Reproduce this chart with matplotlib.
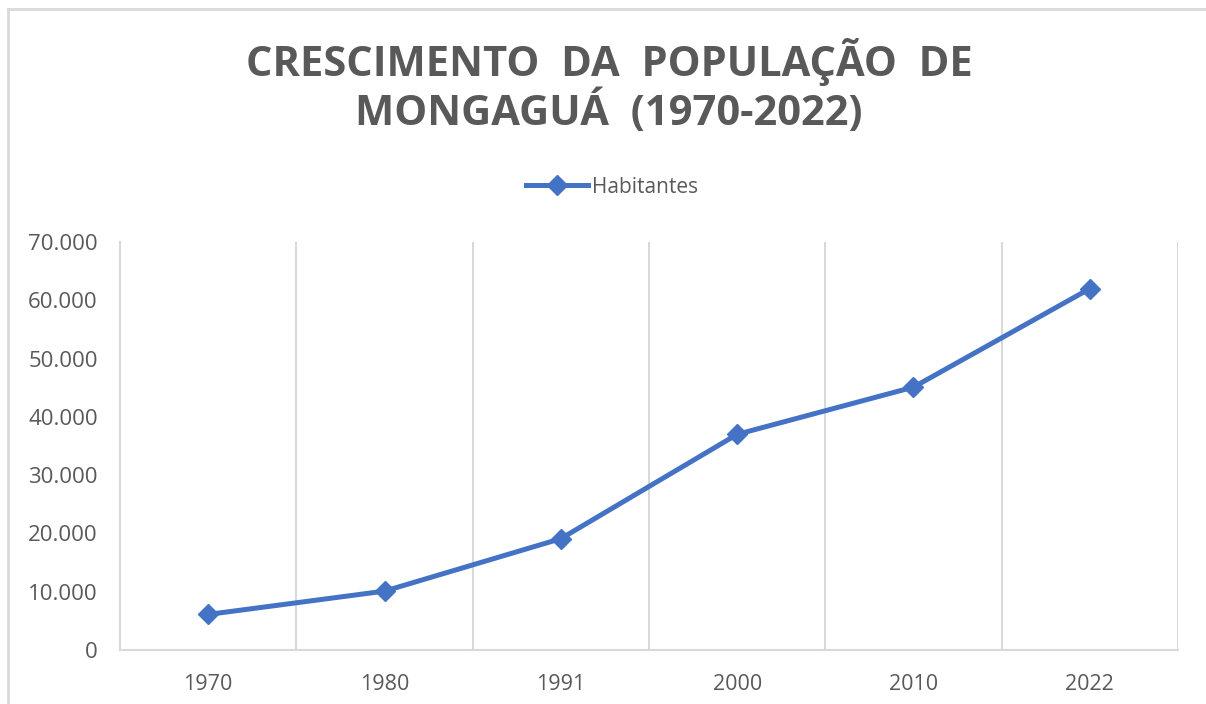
import matplotlib
matplotlib.use("Agg")
import matplotlib.pyplot as plt
from matplotlib.lines import Line2D
from matplotlib.ticker import FuncFormatter, FixedLocator, MultipleLocator

# Dados: população de Mongaguá por ano de censo
anos = ["1970", "1980", "1991", "2000", "2010", "2022"]
habitantes = [6100, 10100, 19100, 37000, 45100, 62000]

cinza = "#595959"
azul = "#4472C4"
grade = "#D9D9D9"

fig = plt.figure(figsize=(12.06, 7.04), dpi=100)
ax = fig.add_axes([120 / 1206, 1 - 650 / 704, (1178 - 120) / 1206, (650 - 242) / 704])

x = list(range(len(anos)))
ax.plot(x, habitantes, color=azul, linewidth=3.6, marker="D", markersize=10,
        label="Habitantes", solid_joinstyle="round")

ax.set_xlim(-0.5, len(anos) - 0.5)
ax.set_ylim(0, 70000)
ax.yaxis.set_major_locator(MultipleLocator(10000))
ax.yaxis.set_major_formatter(FuncFormatter(lambda v, p: f"{int(v):,}".replace(",", ".")))
ax.set_xticks(x)
ax.set_xticklabels(anos)
ax.xaxis.set_minor_locator(FixedLocator([i - 0.5 for i in range(len(anos) + 1)]))
ax.grid(True, which="minor", axis="x", color=grade, linewidth=1.5)
ax.grid(False, which="major")

for s in ["top", "right"]:
    ax.spines[s].set_visible(False)
for s in ["left", "bottom"]:
    ax.spines[s].set_color(grade)
    ax.spines[s].set_linewidth(1.5)

ax.tick_params(axis="both", which="both", length=0)
ax.tick_params(axis="y", labelsize=16, labelcolor=cinza, pad=16)
ax.tick_params(axis="x", labelsize=15.5, labelcolor=cinza, pad=17)
for lbl in ax.get_xticklabels() + ax.get_yticklabels():
    lbl.set_family("Open Sans")

# Título
fig.text(0.505, 1 - 62 / 704, "CRESCIMENTO  DA  POPULAÇÃO  DE", ha="center", va="center",
         fontsize=30, fontweight="bold", color=cinza, family="Open Sans")
fig.text(0.505, 1 - 113 / 704, "MONGAGUÁ  (1970-2022)", ha="center", va="center",
         fontsize=30, fontweight="bold", color=cinza, family="Open Sans")

# Legenda
leg = fig.legend(loc="center", bbox_to_anchor=(612 / 1206, 1 - 187 / 704), frameon=False,
                 prop={"family": "Open Sans", "size": 15}, handlelength=3, handletextpad=0.2)
for t in leg.get_texts():
    t.set_color(cinza)

# Borda do gráfico
fig.add_artist(Line2D([8 / 1206, 8 / 1206], [0, 1 - 9 / 704], color=grade, linewidth=2))
fig.add_artist(Line2D([8 / 1206, 1], [1 - 9 / 704, 1 - 9 / 704], color=grade, linewidth=2))

fig.savefig("out.png", dpi=100)
